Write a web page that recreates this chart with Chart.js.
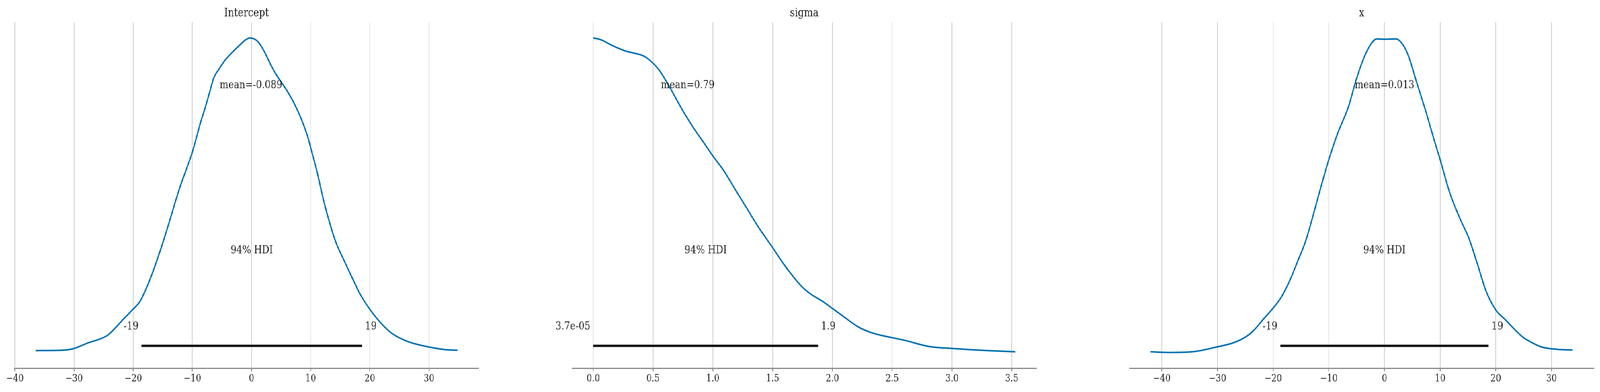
<!DOCTYPE html>
<html><head><meta charset="utf-8">
<script src="https://cdn.jsdelivr.net/npm/chart.js@4.4.0/dist/chart.umd.min.js"></script>
<style>
html,body{margin:0;padding:0;background:#fff;overflow:hidden}
#wrap{position:absolute;left:0;top:0;width:4877px;height:1004px;transform-origin:0 0;background:#fff}
canvas{position:absolute;top:0}
</style></head>
<body>
<div id="wrap"><canvas id="c0"></canvas><canvas id="c1"></canvas><canvas id="c2"></canvas></div>
<script>
// ---------- data ----------
const titles = ['Intercept', 'sigma', 'x'];

const interceptX = [-36.5,-32,-30.1,-27.7,-25.6,-24.3,-21.5,-20.0,-18.9,-17.8,-16.7,-15.6,-14.5,-13.4,-12.2,-11.1,-10.0,-9.3,-8.6,-7.8,-7.1,-6.4,-5.5,-4.4,-3.0,-1.9,-1.0,-0.3,1.05,2.16,3.27,4.16,5.1,6.2,7.31,8.42,9.53,10.08,11.02,12.13,13.24,14.35,15.46,16.9,18.4,19.9,21.7,23.7,26.4,30.1,32.7,34.8];
const interceptY = [0.006,0.007,0.012,0.030,0.043,0.055,0.109,0.138,0.161,0.203,0.255,0.314,0.378,0.446,0.520,0.578,0.637,0.684,0.732,0.780,0.826,0.872,0.901,0.931,0.959,0.979,0.994,1.0,0.989,0.957,0.914,0.884,0.858,0.826,0.788,0.742,0.684,0.645,0.579,0.488,0.410,0.346,0.300,0.242,0.184,0.140,0.097,0.061,0.035,0.017,0.009,0.007];

const sigmaX = [0,0.06,0.17,0.266,0.361,0.425,0.488,0.551,0.646,0.741,0.835,0.93,1.0,1.088,1.183,1.277,1.372,1.506,1.593,1.656,1.735,1.814,1.924,2.0,2.098,2.208,2.318,2.425,2.50,2.61,2.81,2.99,3.19,3.36,3.53];
const sigmaY = [1.0,0.995,0.974,0.959,0.950,0.942,0.924,0.898,0.839,0.774,0.716,0.664,0.625,0.580,0.521,0.463,0.404,0.330,0.281,0.249,0.213,0.187,0.161,0.140,0.113,0.083,0.064,0.053,0.047,0.038,0.019,0.013,0.008,0.005,0.002];

const xX = [-42.0,-38.6,-34.6,-30.0,-27.1,-24.8,-23.5,-21.7,-20.0,-18.5,-17.0,-15.5,-14.2,-13.0,-11.8,-10.0,-8.4,-6.5,-5.0,-3.7,-2.5,-1.4,0,2.1,3.4,4.3,5.8,7.4,8.9,10.0,11.7,13.6,15.1,16.7,18.2,20.0,21.6,24.9,25.8,28.1,31.0,33.8];
const xY = [0.002,0.0,0.002,0.018,0.031,0.051,0.070,0.107,0.141,0.177,0.229,0.294,0.352,0.424,0.502,0.613,0.697,0.780,0.872,0.937,0.979,0.997,0.996,0.997,0.976,0.943,0.858,0.768,0.677,0.613,0.509,0.424,0.366,0.281,0.197,0.135,0.106,0.048,0.038,0.018,0.010,0.008];

const interceptTicks = [-40,-30,-20,-10,0,10,20,30];
const interceptTickLabels = ['−40','−30','−20','−10','0','10','20','30'];
const sigmaTicks = [0,0.5,1,1.5,2,2.5,3,3.5];
const sigmaTickLabels = ['0.0','0.5','1.0','1.5','2.0','2.5','3.0','3.5'];
const xTicks = [-40,-30,-20,-10,0,10,20,30];
const xTickLabels = ['−40','−30','−20','−10','0','10','20','30'];

const interceptHdi = [-18.6, 18.7];
const sigmaHdi = [0.000037, 1.88];
const xHdi = [-18.7, 18.7];
const interceptHdiLabels = ['-19', '19'];
const sigmaHdiLabels = ['3.7e-05', '1.9'];
const xHdiLabels = ['-19', '19'];

const means = [-0.089, 0.79, 0.013];
const meanLabels = ['mean=-0.089', 'mean=0.79', 'mean=0.013'];
const hdiText = '94% HDI';

const xLimits = [[-40.07, 38.39], [-0.1765, 3.706], [-45.79, 37.59]];

// ---------- layout / style ----------
const REF_W = 4877, REF_H = 1004;
const W = 1415, PAD = 150, TOP = 57, BOTTOM = 943, H = 1004;
const lefts = [44, 1744, 3443];
const LINE = '#0072b2', TEXT = '#262626', GRID = '#cccccc', AXIS = '#8a8a8a';
const FONT = '"DejaVu Serif", serif';

// fit the reference-sized drawing into whatever viewport we get
const wrap = document.getElementById('wrap');
const sx = window.innerWidth / REF_W, sy = window.innerHeight / REF_H;
wrap.style.transform = 'scale(' + sx + ',' + sy + ')';

const panels = [
  {xs: interceptX, ys: interceptY, ticks: interceptTicks, tl: interceptTickLabels, hdi: interceptHdi, hl: interceptHdiLabels},
  {xs: sigmaX, ys: sigmaY, ticks: sigmaTicks, tl: sigmaTickLabels, hdi: sigmaHdi, hl: sigmaHdiLabels},
  {xs: xX, ys: xY, ticks: xTicks, tl: xTickLabels, hdi: xHdi, hl: xHdiLabels}
];

panels.forEach((p, i) => {
  const cv = document.getElementById('c' + i);
  cv.width = W + 2 * PAD; cv.height = H;
  cv.style.left = (lefts[i] - PAD) + 'px';
  cv.style.width = (W + 2 * PAD) + 'px'; cv.style.height = H + 'px';

  const annot = {
    id: 'annot' + i,
    afterDatasetsDraw(chart) {
      const {ctx, chartArea: a, scales: {x, y}} = chart;
      const top = y.max;
      ctx.save();
      ctx.fillStyle = TEXT;
      ctx.textBaseline = 'alphabetic';
      ctx.textAlign = 'center';
      ctx.font = '29px ' + FONT;
      ctx.fillText(titles[i], (a.left + a.right) / 2, a.top - 15);
      ctx.font = '28px ' + FONT;
      ctx.fillText(meanLabels[i], x.getPixelForValue(means[i]), y.getPixelForValue(top * 0.8));
      ctx.fillText(hdiText, x.getPixelForValue((p.hdi[0] + p.hdi[1]) / 2), y.getPixelForValue(top * 0.3));
      ctx.textAlign = 'right';
      ctx.fillText(p.hl[0] + ' ', x.getPixelForValue(p.hdi[0]), y.getPixelForValue(top * 0.07));
      ctx.textAlign = 'left';
      ctx.fillText(' ' + p.hl[1], x.getPixelForValue(p.hdi[1]), y.getPixelForValue(top * 0.07));
      ctx.restore();
    }
  };

  new Chart(cv, {
    type: 'line',
    data: {
      datasets: [
        {data: p.xs.map((v, k) => ({x: v, y: p.ys[k]})), borderColor: LINE, borderWidth: 4,
         pointRadius: 0, cubicInterpolationMode: 'monotone', fill: false},
        {data: [{x: p.hdi[0], y: 0.021}, {x: p.hdi[1], y: 0.021}], borderColor: '#111', borderWidth: 6,
         borderCapStyle: 'butt', pointRadius: 0, fill: false}
      ]
    },
    options: {
      responsive: false, animation: false, devicePixelRatio: 1,
      layout: {padding: {left: PAD, right: PAD, top: TOP, bottom: 0}},
      plugins: {legend: {display: false}, tooltip: {enabled: false}, title: {display: false}},
      scales: {
        x: {
          type: 'linear', min: xLimits[i][0], max: xLimits[i][1],
          afterBuildTicks(s) { s.ticks = p.ticks.map(v => ({value: v})); },
          afterFit(s) { s.height = H - BOTTOM; s.paddingLeft = 0; s.paddingRight = 0; },
          ticks: {autoSkip: false, maxRotation: 0, padding: 4, color: TEXT,
                  font: {family: FONT, size: 25.5},
                  callback: (v, idx) => p.tl[idx]},
          grid: {color: GRID, lineWidth: 2, drawTicks: true, tickLength: 8, tickColor: AXIS, tickWidth: 2.5},
          border: {display: true, color: AXIS, width: 3}
        },
        y: {type: 'linear', min: -0.05, max: 1.05, display: false}
      }
    },
    plugins: [annot]
  });
});
</script>
</body></html>
